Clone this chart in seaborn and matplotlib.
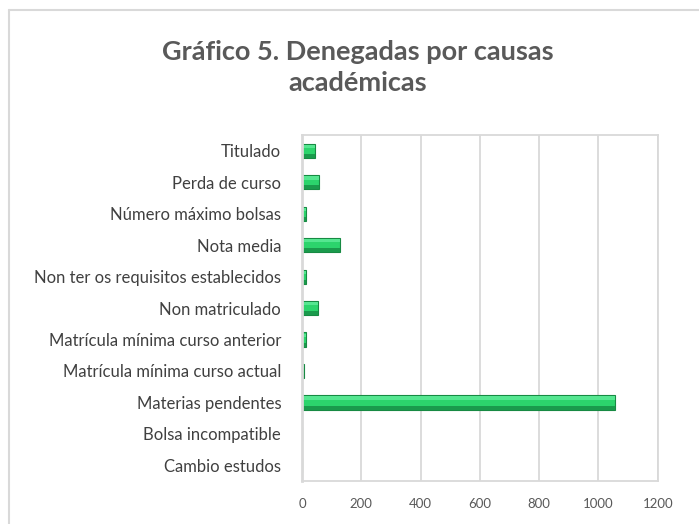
import matplotlib
matplotlib.use("Agg")
import matplotlib.pyplot as plt
import seaborn as sns
import pandas as pd
from matplotlib.lines import Line2D

causas = ['Titulado', 'Perda de curso', 'Número máximo bolsas', 'Nota media',
          'Non ter os requisitos establecidos', 'Non matriculado',
          'Matrícula mínima curso anterior', 'Matrícula mínima curso actual',
          'Materias pendentes', 'Bolsa incompatible', 'Cambio estudos']
denegadas = [43, 57, 13, 129, 13, 53, 13, 7, 1055, 1, 0]
xticks = [0, 200, 400, 600, 800, 1000, 1200]

df = pd.DataFrame({'causa': causas, 'n': denegadas})

sns.set_theme(style="white")
plt.rcParams['font.family'] = ['Lato', 'DejaVu Sans']

fig = plt.figure(figsize=(6.99, 5.24), dpi=100)
ax = fig.add_axes([0.432, 0.082, 0.509, 0.660])

sns.barplot(data=df, x='n', y='causa', orient='h', ax=ax, width=0.45,
            color='#2cd46c', edgecolor='#178a43', linewidth=0.8, saturation=1)

# bevel look: light strip on top, darker strip at the bottom
for p in list(ax.patches):
    x0, y0 = p.get_x(), p.get_y()
    w, h = p.get_width(), p.get_height()
    if w > 0:
        z = p.get_zorder() + 0.1
        ax.add_patch(plt.Rectangle((x0, y0 + h * 0.72), w, h * 0.28,
                                   facecolor='#1a9a4c', edgecolor='none', zorder=z))
        ax.add_patch(plt.Rectangle((x0, y0 + h * 0.08), w, h * 0.22,
                                   facecolor='#55e690', edgecolor='none', zorder=z))

ax.set_xlim(0, 1200)
ax.set_xticks(xticks)
ax.set_xticklabels([str(t) for t in xticks], fontsize=9.5, color='#595959')
ax.tick_params(axis='y', labelsize=12, labelcolor='#404040', length=0, pad=15)
ax.tick_params(axis='x', length=0, pad=12)
ax.set_xlabel('')
ax.set_ylabel('')
ax.grid(axis='x', color='#d9d9d9', linewidth=1.3)
ax.set_axisbelow(True)
for s in ax.spines.values():
    s.set_color('#d9d9d9')
    s.set_linewidth(1.3)
ax.spines['left'].set_linewidth(2)

fig.text(0.512, 0.872, 'Gráfico 5. Denegadas por causas\nacadémicas', ha='center', va='center',
         fontsize=19.5, fontweight='bold', color='#595959', linespacing=1.35)

# outer chart frame (cropped)
fig.add_artist(Line2D([9 / 699, 9 / 699], [0, 1 - 10 / 524], color='#d9d9d9', lw=1.5))
fig.add_artist(Line2D([9 / 699, 1], [1 - 10 / 524, 1 - 10 / 524], color='#d9d9d9', lw=1.5))

fig.savefig('out.png', dpi=100)
